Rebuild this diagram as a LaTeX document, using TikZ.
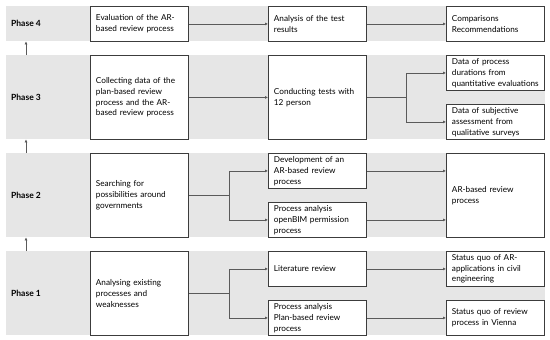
\documentclass[tikz,border=0pt]{standalone}
\usepackage{fontspec}
\setmainfont{Lato}
\usetikzlibrary{arrows.meta}
\definecolor{bandgray}{HTML}{E6E6E6}
\definecolor{boxline}{HTML}{3C3C3C}
\definecolor{conn}{HTML}{5A5A5A}
\tikzset{
  band/.style={fill=bandgray, draw=none, anchor=north west, inner sep=0pt, minimum width=539pt},
  box/.style={draw=boxline, line width=0.9pt, fill=white, anchor=north west, inner xsep=5.5pt, inner ysep=0pt,
    minimum width=98pt, text width=87pt, align=left, font=\fontsize{8.2}{10.8}\selectfont},
  phaselabel/.style={anchor=west, font=\fontsize{8.5}{10}\selectfont\bfseries, inner sep=0pt},
  arr/.style={draw=conn, line width=0.6pt, -{Latex[length=3pt,width=3pt]}},
  ln/.style={draw=conn, line width=0.6pt}
}
\begin{document}
\begin{tikzpicture}[x=1pt,y=-1pt]
\useasboundingbox (0,0) rectangle (550,340);
% bands
\node[band, minimum height=35pt] (b4) at (6,6) {};
\node[band, minimum height=84pt] (b3) at (6,55) {};
\node[band, minimum height=84pt] (b2) at (6,153) {};
\node[band, minimum height=84pt] (b1) at (6,251) {};
% phase labels
\node[phaselabel] (p4) at (11,23.5) {Phase 4};
\node[phaselabel] (p3) at (11,97) {Phase 3};
\node[phaselabel] (p2) at (11,195) {Phase 2};
\node[phaselabel] (p1) at (11,293) {Phase 1};
% phase arrows
\draw[arr] ([xshift=20pt]b3.north west) -- ([xshift=20pt]b4.south west);
\draw[arr] ([xshift=20pt]b2.north west) -- ([xshift=20pt]b3.south west);
\draw[arr] ([xshift=20pt]b1.north west) -- ([xshift=20pt]b2.south west);
% Phase 4
\node[box, minimum height=35pt] (e4) at (90,6) {Evaluation of the AR-\\based review process};
\node[box, minimum height=35pt] (a4) at (268,6) {Analysis of the test\\results};
\node[box, minimum height=35pt] (c4) at (446,6) {Comparisons\\Recommendations};
\draw[arr] (e4.east) -- (a4.west);
\draw[arr] (a4.east) -- (c4.west);
% Phase 3
\node[box, minimum height=84pt] (e3) at (90,55) {Collecting data of the\\plan-based review\\process and the AR-\\based review process};
\node[box, minimum height=84pt] (a3) at (268,55) {Conducting tests with\\12 person};
\node[box, minimum height=35pt] (c3a) at (446,55) {Data of process\\durations from\\quantitative evaluations};
\node[box, minimum height=35pt] (c3b) at (446,104) {Data of subjective\\assessment from\\qualitative surveys};
\draw[arr] (e3.east) -- (a3.west);
\coordinate (j3) at ([xshift=39pt]a3.east);
\draw[ln] (a3.east) -- (j3);
\draw[arr] (j3) |- (c3a.west);
\draw[arr] (j3) |- (c3b.west);
% Phase 2
\node[box, minimum height=84pt] (e2) at (90,153) {Searching for\\possibilities around\\governments};
\node[box, minimum height=35pt] (a2a) at (268,153) {Development of an\\AR-based review\\process};
\node[box, minimum height=35pt] (a2b) at (268,202) {Process analysis\\openBIM permission\\process};
\node[box, minimum height=84pt] (c2) at (446,153) {AR-based review\\process};
\coordinate (j2) at ([xshift=40pt]e2.east);
\draw[ln] (e2.east) -- (j2);
\draw[arr] (j2) |- (a2a.west);
\draw[arr] (j2) |- (a2b.west);
\draw[arr] (a2a.east) -- (a2a.east -| c2.west);
\draw[arr] (a2b.east) -- (a2b.east -| c2.west);
% Phase 1
\node[box, minimum height=84pt] (e1) at (90,251) {Analysing existing\\processes and\\weaknesses};
\node[box, minimum height=35pt] (a1a) at (268,251) {Literature review};
\node[box, minimum height=35pt] (a1b) at (268,300) {Process analysis\\Plan-based review\\process};
\node[box, minimum height=35pt] (c1a) at (446,251) {Status quo of AR-\\applications in civil\\engineering};
\node[box, minimum height=35pt] (c1b) at (446,300) {Status quo of review\\process in Vienna};
\coordinate (j1) at ([xshift=40pt]e1.east);
\draw[ln] (e1.east) -- (j1);
\draw[arr] (j1) |- (a1a.west);
\draw[arr] (j1) |- (a1b.west);
\draw[arr] (a1a.east) -- (c1a.west);
\draw[arr] (a1b.east) -- (c1b.west);
\end{tikzpicture}
\end{document}
